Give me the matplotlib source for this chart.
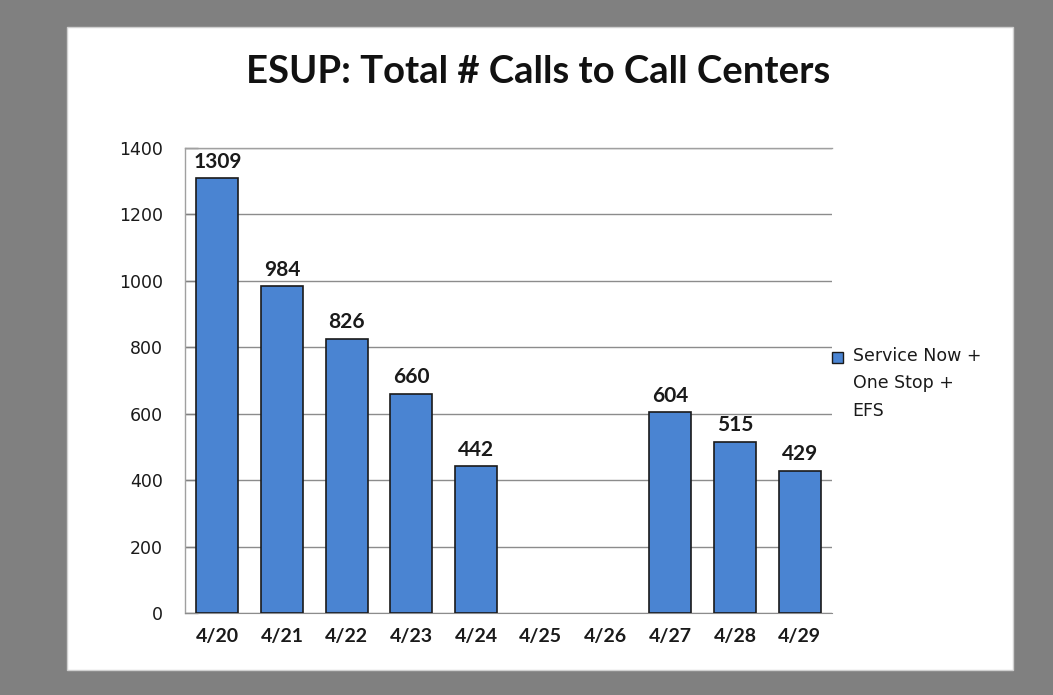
import numpy as np
import matplotlib.pyplot as plt
from matplotlib.patches import Rectangle

# data
dates = ["4/20", "4/21", "4/22", "4/23", "4/24", "4/25", "4/26", "4/27", "4/28", "4/29"]
calls = [1309, 984, 826, 660, 442, np.nan, np.nan, 604, 515, 429]
yticks = [0, 200, 400, 600, 800, 1000, 1200, 1400]
title = "ESUP: Total # Calls to Call Centers"
legend_label = "Service Now +\nOne Stop +\nEFS"

plt.rcParams["font.family"] = ["Lato", "DejaVu Sans"]

bar_color = "#4A84D2"
grid_color = "#8c8c8c"

fig = plt.figure(figsize=(10.53, 6.95), dpi=100, facecolor="#808080")
# white chart panel on the gray background
fig.patches.append(Rectangle((67 / 1053, 1 - 670 / 695), 946 / 1053, 643 / 695,
                             transform=fig.transFigure, facecolor="white",
                             edgecolor="#d0d0d0", lw=1, zorder=-5))

ax = fig.add_axes([185 / 1053, 1 - 613 / 695, 647 / 1053, 465 / 695])
ax.set_zorder(2)
ax.patch.set_alpha(0)
x = np.arange(len(dates))
ax.bar(x, calls, width=0.65, color=bar_color, edgecolor="#1a1a1a", lw=1.2, zorder=3)

for xi, v in zip(x, calls):
    if np.isnan(v):
        continue
    ax.text(xi, v + 20, f"{int(v)}", ha="center", va="bottom",
            fontsize=15, fontweight="bold", color="#1a1a1a")

ax.set_xlim(-0.5, len(dates) - 0.5)
ax.set_ylim(0, 1400)
ax.set_yticks(yticks)
ax.set_yticklabels([str(t) for t in yticks], fontsize=12.5, color="#1a1a1a",
                   family="DejaVu Sans")
ax.set_xticks(x)
ax.set_xticklabels(dates, fontsize=14, fontweight="bold", color="#1a1a1a")
ax.tick_params(axis="x", length=0, pad=11)
ax.tick_params(axis="y", direction="in", length=9, width=1, color="#808080", pad=16)
ax.yaxis.grid(True, color=grid_color, lw=1, zorder=0)
ax.set_axisbelow(True)
for side in ["left", "top", "right"]:
    ax.spines[side].set_color("#a0a0a0")
    ax.spines[side].set_linewidth(1)
ax.spines["right"].set_visible(False)
ax.spines["bottom"].set_color(grid_color)

fig.text(538 / 1053, 1 - 72 / 695, title, ha="center", va="center",
         fontsize=27.5, fontweight="bold", color="#111111")

# legend drawn next to the plot area
ax.add_patch(Rectangle((1.0, 0.538), 0.017, 0.024, transform=ax.transAxes,
                       facecolor=bar_color, edgecolor="#1a1a1a", lw=1,
                       clip_on=False))
ax.text(1.032, 0.573, legend_label, transform=ax.transAxes, ha="left", va="top",
        fontsize=12.5, linespacing=1.7, color="#1a1a1a", family="DejaVu Sans")

fig.savefig("out.png", dpi=100, facecolor=fig.get_facecolor())
